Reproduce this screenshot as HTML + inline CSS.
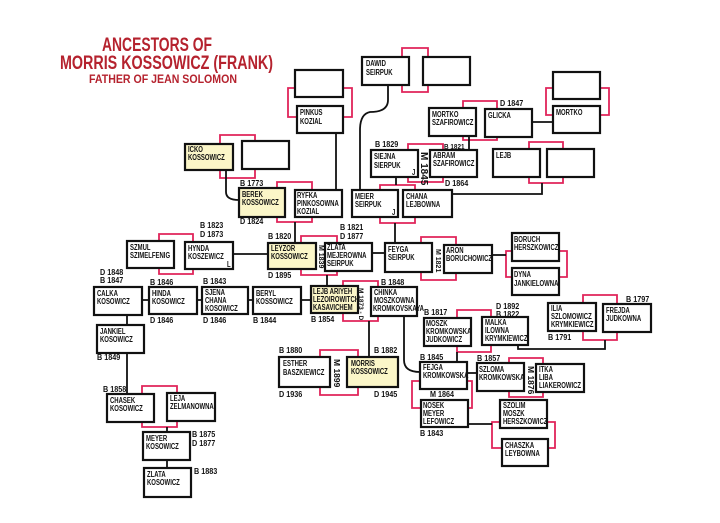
<!DOCTYPE html>
<html><head><meta charset="utf-8"><style>
html,body{margin:0;padding:0;background:#fff;}
svg{display:block;}
.t{font-family:"Liberation Sans",sans-serif;font-weight:bold;font-size:8.3px;fill:#111;transform-box:fill-box;transform-origin:left center;transform:scaleX(0.72);}
.d{font-family:"Liberation Sans",sans-serif;font-weight:bold;font-size:8.5px;fill:#111;}
.dd text{transform-box:fill-box;transform-origin:left center;transform:scaleX(0.85);}
.ti{font-family:"Liberation Sans",sans-serif;font-weight:bold;fill:#b5222e;}
rect.b{fill:#fff;stroke:#111;stroke-width:2.2;}
rect.y{fill:#fbf6c8;stroke:#111;stroke-width:2.2;}
.r{fill:none;stroke:#e0245a;stroke-width:1.8;}
.k{fill:none;stroke:#111;stroke-width:1.8;}
</style></head><body>
<svg width="720" height="523" viewBox="0 0 720 523" xmlns="http://www.w3.org/2000/svg">
<rect width="720" height="523" fill="#fff"/>
<text class="ti" x="102" y="51" font-size="19" textLength="110" lengthAdjust="spacingAndGlyphs">ANCESTORS OF</text>
<text class="ti" x="60" y="69" font-size="19" textLength="213" lengthAdjust="spacingAndGlyphs">MORRIS KOSSOWICZ (FRANK)</text>
<text class="ti" x="89" y="83" font-size="12" textLength="148" lengthAdjust="spacingAndGlyphs">FATHER OF JEAN SOLOMON</text>

<g class="r">
<polyline points="402,57 402,48 428,48 428,57"/><polyline points="402,85 402,92 428,92 428,85"/>
<polyline points="295,88 288,88 288,117 297,117"/><polyline points="343,88 352,88 352,117 343,117"/>
<polyline points="220,144 220,135 255,135 255,141"/><polyline points="220,170 220,178 255,178 255,169"/>
<polyline points="277,188 277,182 312,182 312,190"/><polyline points="277,217 277,222 312,222 312,217"/>
<polyline points="463,108 463,101 497,101 497,109"/><polyline points="463,136 463,140 497,140 497,137"/>
<polyline points="553,88 546,88 546,115 553,115"/><polyline points="600,88 609,88 609,115 600,115"/>
<polyline points="408,150 408,144 443,144 443,150"/><polyline points="408,177 408,182 443,182 443,177"/>
<polyline points="529,149 529,142 563,142 563,149"/><polyline points="529,177 529,183 563,183 563,177"/>
<polyline points="380,190 380,185 415,185 415,190"/><polyline points="380,217 380,223 415,223 415,217"/>
<polyline points="421,243 421,237 456,237 456,245"/><polyline points="421,272 421,280 456,280 456,273"/>
<polyline points="512,251 506,251 506,277 512,277"/><polyline points="559,251 567,251 567,277 559,277"/>
<polyline points="159,241 159,234 193,234 193,242"/><polyline points="159,268 159,274 193,274 193,269"/>
<polyline points="301,243 301,236 337,236 337,243"/><polyline points="301,269 301,275 337,275 337,271"/>
<polyline points="343,286 343,281 378,281 378,287"/><polyline points="343,313 343,321 378,321 378,316"/>
<polyline points="320,357 320,350 358,350 358,357"/><polyline points="320,387 320,395 358,395 358,387"/>
<polyline points="457,318 457,310 491,310 491,317"/><polyline points="457,346 457,352 491,352 491,345"/>
<polyline points="509,363 509,358 543,358 543,364"/><polyline points="509,391 509,397 543,397 543,392"/>
<polyline points="583,303 583,295 617,295 617,304"/><polyline points="583,331 583,340 617,340 617,332"/>
<polyline points="420,381 412,381 412,408 421,408"/><polyline points="467,381 472,381 472,408 468,408"/>
<polyline points="500,422 492,422 492,448 502,448"/><polyline points="547,422 555,422 555,448 548,448"/>
<polyline points="142,394 142,386 177,386 177,393"/><polyline points="142,422 142,427 177,427 177,421"/>
</g>

<g class="k">
<path d="M388,85 L388,100 Q388,112 370,112 Q360,114 360,130 L360,190"/>
<line x1="336" y1="133" x2="336" y2="190"/>
<path d="M226,170 L226,192 Q226,200 239,200"/>
<line x1="469" y1="136" x2="469" y2="150"/>
<line x1="532" y1="122" x2="553" y2="122"/>
<line x1="396" y1="177" x2="396" y2="185"/>
<path d="M542,183 L542,194 L452,194"/>
<line x1="295" y1="222" x2="295" y2="243"/>
<line x1="395" y1="223" x2="395" y2="243"/>
<line x1="233" y1="254" x2="268" y2="254"/>
<line x1="372" y1="253" x2="385" y2="253"/>
<line x1="492" y1="255" x2="506" y2="255"/>
<line x1="327" y1="275" x2="327" y2="286"/>
<line x1="142" y1="300" x2="311" y2="300"/>
<line x1="127" y1="315" x2="127" y2="325"/>
<line x1="127" y1="353" x2="127" y2="394"/>
<line x1="369" y1="321" x2="369" y2="357"/>
<path d="M404,316 L404,360 Q404,372 420,372"/>
<line x1="457" y1="352" x2="457" y2="362"/>
<line x1="467" y1="373" x2="477" y2="373"/>
<path d="M605,340 L605,349 L518,349 L518,345"/>
<line x1="468" y1="424" x2="492" y2="424"/>
<line x1="167" y1="427" x2="167" y2="432"/>
<line x1="167" y1="460" x2="167" y2="468"/>
</g>

<rect class="b" x="362" y="57" width="47" height="28"/><text class="t" x="366" y="66">DAWID</text><text class="t" x="366" y="75">SEIRPUK</text>
<rect class="b" x="423" y="57" width="47" height="28"/>
<rect class="b" x="295" y="70" width="48" height="27"/>
<rect class="b" x="297" y="106" width="46" height="27"/><text class="t" x="300" y="115">PINKUS</text><text class="t" x="300" y="124">KOZIAL</text>
<rect class="b" x="553" y="72" width="47" height="27"/>
<rect class="b" x="553" y="106" width="47" height="27"/><text class="t" x="556" y="115">MORTKO</text>
<rect class="b" x="429" y="108" width="47" height="28"/><text class="t" x="432" y="117">MORTKO</text><text class="t" x="432" y="125">SZAFIROWICZ</text>
<rect class="b" x="485" y="109" width="47" height="28"/><text class="t" x="488" y="118">GLICKA</text>
<rect class="y" x="185" y="144" width="48" height="26"/><text class="t" x="188" y="152">ICKO</text><text class="t" x="188" y="160">KOSSOWICZ</text>
<rect class="b" x="242" y="141" width="47" height="28"/>
<rect class="b" x="371" y="150" width="47" height="27"/><text class="t" x="374" y="159">SIEJNA</text><text class="t" x="374" y="168">SIERPUK</text><text class="t" x="412" y="175" font-size="7">J</text>
<rect class="b" x="430" y="150" width="47" height="27"/><text class="t" x="433" y="158">ABRAM</text><text class="t" x="433" y="166">SZAFIROWICZ</text>
<rect class="b" x="493" y="149" width="47" height="28"/><text class="t" x="496" y="158">LEJB</text>
<rect class="b" x="547" y="149" width="47" height="28"/>
<rect class="y" x="239" y="188" width="46" height="29"/><text class="t" x="242" y="197">BEREK</text><text class="t" x="242" y="205">KOSSOWICZ</text>
<rect class="b" x="295" y="190" width="47" height="27"/><text class="t" x="297" y="198">RYFKA</text><text class="t" x="297" y="206">PINKOSOWNA</text><text class="t" x="297" y="214">KOZIAL</text>
<rect class="b" x="352" y="190" width="46" height="27"/><text class="t" x="355" y="199">MEIER</text><text class="t" x="355" y="207">SEIRPUK</text><text class="t" x="392" y="215" font-size="7">J</text>
<rect class="b" x="403" y="190" width="49" height="27"/><text class="t" x="406" y="199">CHANA</text><text class="t" x="406" y="207">LEJBOWNA</text>
<rect class="b" x="127" y="241" width="47" height="27"/><text class="t" x="130" y="250">SZMUL</text><text class="t" x="130" y="258">SZIMELFENIG</text>
<rect class="b" x="185" y="242" width="48" height="27"/><text class="t" x="188" y="251">HYNDA</text><text class="t" x="188" y="259">KOSZEWICZ</text><text class="t" x="227" y="267" font-size="7">L</text>
<rect class="y" x="268" y="243" width="48" height="26"/><text class="t" x="271" y="251">LEYZOR</text><text class="t" x="271" y="259">KOSSOWICZ</text>
<rect class="b" x="325" y="243" width="47" height="28"/><text class="t" x="327" y="250">ZLATA</text><text class="t" x="327" y="258">MEJEROWNA</text><text class="t" x="327" y="266">SEIRPUK</text>
<rect class="b" x="385" y="243" width="47" height="29"/><text class="t" x="388" y="252">FEYGA</text><text class="t" x="388" y="260">SEIRPUK</text>
<rect class="b" x="444" y="245" width="48" height="28"/><text class="t" x="446" y="253">ARON</text><text class="t" x="446" y="261">BORUCHOWICZ</text>
<rect class="b" x="512" y="233" width="47" height="28"/><text class="t" x="514" y="242">BORUCH</text><text class="t" x="514" y="250">HERSZKOWICZ</text>
<rect class="b" x="512" y="268" width="47" height="27"/><text class="t" x="514" y="277">DYNA</text><text class="t" x="514" y="286">JANKIELOWNA</text>
<rect class="b" x="94" y="287" width="48" height="28"/><text class="t" x="97" y="296">CALKA</text><text class="t" x="97" y="304">KOSOWICZ</text>
<rect class="b" x="149" y="287" width="48" height="27"/><text class="t" x="152" y="296">HINDA</text><text class="t" x="152" y="304">KOSOWICZ</text>
<rect class="b" x="202" y="287" width="46" height="27"/><text class="t" x="205" y="295">SJENA</text><text class="t" x="205" y="303">CHANA</text><text class="t" x="205" y="311">KOSOWICZ</text>
<rect class="b" x="253" y="287" width="48" height="27"/><text class="t" x="256" y="296">BERYL</text><text class="t" x="256" y="304">KOSSOWICZ</text>
<rect class="y" x="311" y="286" width="47" height="27"/><text class="t" x="313" y="294">LEJB ARIYEH</text><text class="t" x="313" y="302" font-size="7">LEZOIROWITCH</text><text class="t" x="313" y="310">KASAVICHEM</text>
<rect class="b" x="371" y="287" width="46" height="29"/><text class="t" x="374" y="295">CHINKA</text><text class="t" x="374" y="303">MOSZKOWNA</text><text class="t" x="373" y="311" font-size="6.5">KROMKOVSKAYA</text>
<rect class="b" x="548" y="303" width="48" height="28"/><text class="t" x="551" y="311">ILIA</text><text class="t" x="551" y="319">SZLOMOWICZ</text><text class="t" x="551" y="327">KRYMKIEWICZ</text>
<rect class="b" x="603" y="304" width="48" height="28"/><text class="t" x="606" y="313">FREJDA</text><text class="t" x="606" y="321">JUDKOWNA</text>
<rect class="b" x="424" y="318" width="47" height="28"/><text class="t" x="426" y="326">MOSZK</text><text class="t" x="426" y="334">KROMKOWSKA</text><text class="t" x="426" y="342">JUDKOWICZ</text>
<rect class="b" x="482" y="317" width="46" height="28"/><text class="t" x="485" y="325">MALKA</text><text class="t" x="485" y="333">ILOWNA</text><text class="t" x="485" y="341">KRYMKIEWICZ</text>
<rect class="b" x="97" y="325" width="47" height="28"/><text class="t" x="100" y="334">JANKIEL</text><text class="t" x="100" y="342">KOSOWICZ</text>
<rect class="b" x="279" y="357" width="51" height="30"/><text class="t" x="283" y="366">ESTHER</text><text class="t" x="283" y="375">BASZKIEWICZ</text>
<rect class="y" x="347" y="357" width="51" height="30"/><text class="t" x="351" y="366">MORRIS</text><text class="t" x="351" y="374">KOSSOWICZ</text>
<rect class="b" x="420" y="362" width="47" height="27"/><text class="t" x="423" y="370">FEJGA</text><text class="t" x="423" y="378">KROMKOWSKA</text>
<rect class="b" x="477" y="363" width="47" height="28"/><text class="t" x="479" y="372">SZLOMA</text><text class="t" x="479" y="380">KROMKOWSKA</text>
<rect class="b" x="536" y="364" width="48" height="28"/><text class="t" x="539" y="372">ITKA</text><text class="t" x="539" y="380">LIBA</text><text class="t" x="539" y="388">LIAKEROWICZ</text>
<rect class="b" x="107" y="394" width="47" height="28"/><text class="t" x="110" y="403">CHASEK</text><text class="t" x="110" y="411">KOSOWICZ</text>
<rect class="b" x="167" y="393" width="48" height="28"/><text class="t" x="170" y="401">LEJA</text><text class="t" x="170" y="409">ZELMANOWNA</text>
<rect class="b" x="421" y="400" width="47" height="27"/><text class="t" x="423" y="408">NOSEK</text><text class="t" x="423" y="416">MEYER</text><text class="t" x="423" y="424">LEFOWICZ</text>
<rect class="b" x="500" y="400" width="47" height="28"/><text class="t" x="503" y="408">SZOLIM</text><text class="t" x="503" y="416">MOSZK</text><text class="t" x="503" y="424">HERSZKOWICZ</text>
<rect class="b" x="143" y="432" width="47" height="28"/><text class="t" x="146" y="441">MEYER</text><text class="t" x="146" y="449">KOSOWICZ</text>
<rect class="b" x="502" y="439" width="46" height="27"/><text class="t" x="505" y="448">CHASZKA</text><text class="t" x="505" y="456">LEYBOWNA</text>
<rect class="b" x="144" y="468" width="47" height="29"/><text class="t" x="147" y="477">ZLATA</text><text class="t" x="147" y="485">KOSOWICZ</text>

<g class="d dd">
<text x="500" y="106">D 1847</text>
<text x="375" y="147">B 1829</text>
<text x="444" y="149" font-size="7.5">B 1821</text>
<text x="445" y="186">D 1864</text>
<text x="240" y="186">B 1773</text>
<text x="240" y="224">D 1824</text>
<text x="200" y="228">B 1823</text><text x="200" y="237">D 1873</text>
<text x="268" y="239">B 1820</text>
<text x="268" y="278">D 1895</text>
<text x="340" y="230">B 1821</text><text x="340" y="239">D 1877</text>
<text x="100" y="275">D 1848</text><text x="100" y="283">B 1847</text>
<text x="150" y="285">B 1846</text><text x="150" y="323">D 1846</text>
<text x="203" y="284">B 1843</text><text x="203" y="323">D 1846</text>
<text x="253" y="323">B 1844</text>
<text x="311" y="322">B 1854</text>
<text x="381" y="285">B 1848</text>
<text x="97" y="360">B 1849</text>
<text x="279" y="353">B 1880</text><text x="279" y="397">D 1936</text>
<text x="374" y="353">B 1882</text><text x="374" y="397">D 1945</text>
<text x="424" y="315">B 1817</text>
<text x="496" y="309">D 1892</text><text x="496" y="317">B 1822</text>
<text x="626" y="302">B 1797</text>
<text x="548" y="340">B 1791</text>
<text x="420" y="360">B 1845</text>
<text x="477" y="361">B 1857</text>
<text x="430" y="397">M 1864</text>
<text x="420" y="436">B 1843</text>
<text x="103" y="392">B 1858</text>
<text x="192" y="437">B 1875</text><text x="192" y="446">D 1877</text>
<text x="194" y="474">B 1883</text>
</g>
<g class="d">
<text transform="translate(421,152) rotate(90)" font-size="10">M 1845</text>
<text transform="translate(436,249) rotate(90)" font-size="7">M 1821</text>
<text transform="translate(319,245) rotate(90)" font-size="7">M 1839</text>
<text transform="translate(359,288) rotate(90)" font-size="6.5">M 1873 - D</text>
<text transform="translate(334,359) rotate(90)" font-size="8.5">M 1899</text>
<text transform="translate(528,366) rotate(90)" font-size="8.5">M 1876</text>
</g>
</svg>
</body></html>
